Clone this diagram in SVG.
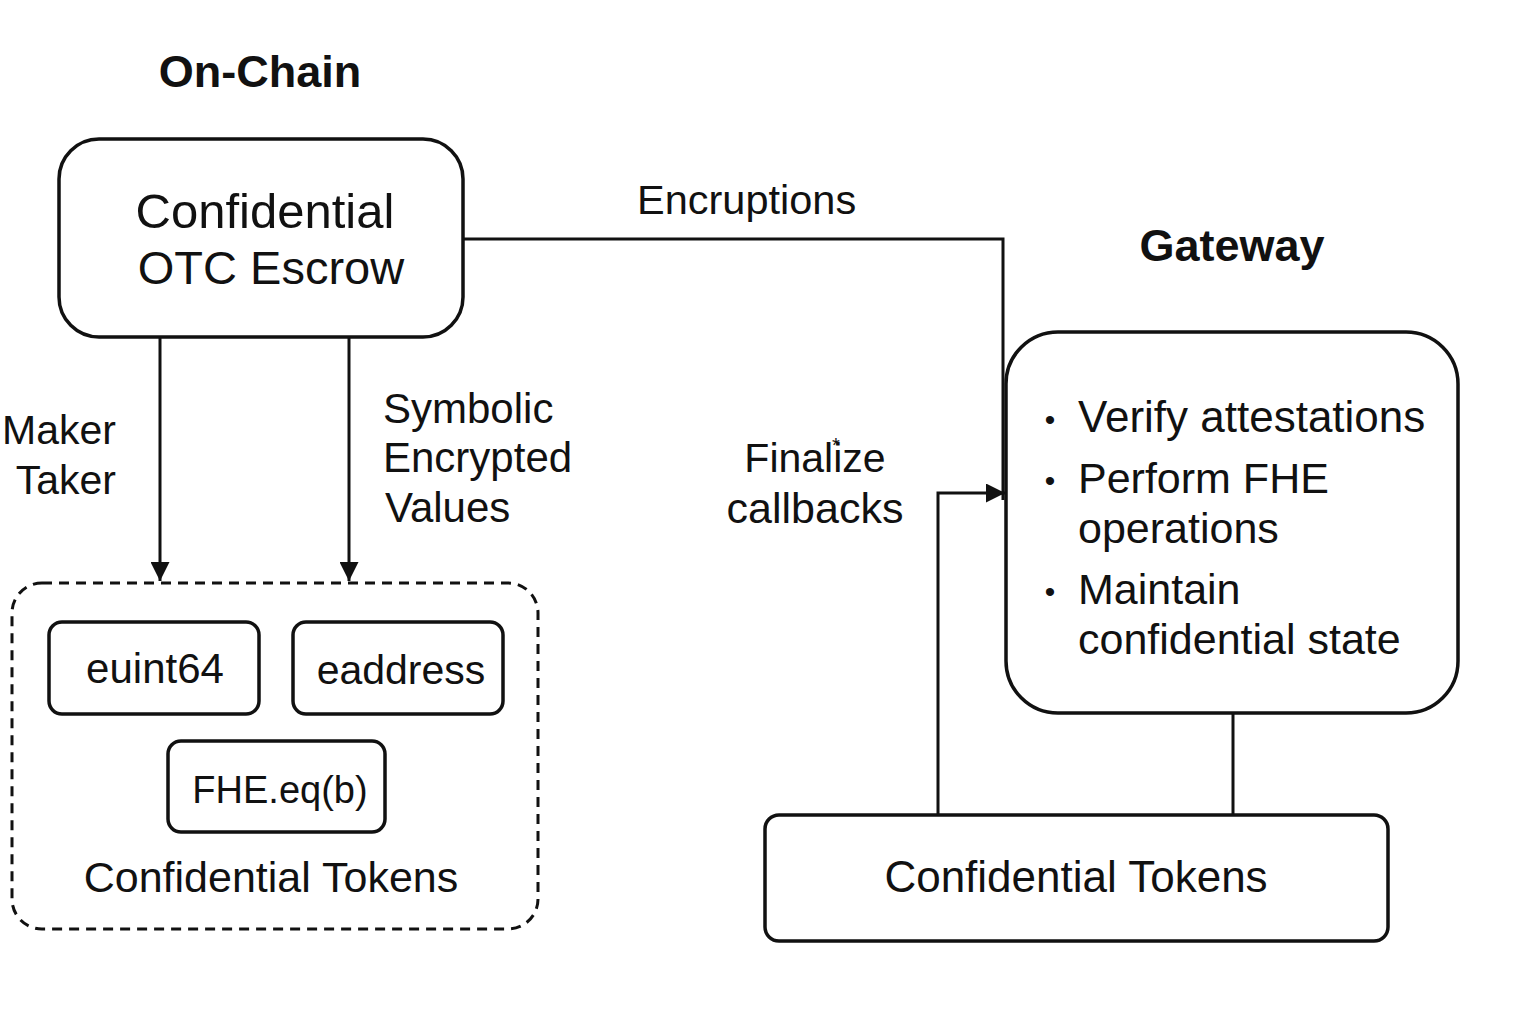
<svg xmlns="http://www.w3.org/2000/svg" width="1536" height="1024" viewBox="0 0 1536 1024">
<style>
text{font-family:"Liberation Sans",Arial,sans-serif;fill:#111}
.b{font-weight:bold}
.box{fill:#fff;stroke:#111;stroke-width:3.5}
.ln{fill:none;stroke:#111;stroke-width:3}
.m{text-anchor:middle}
</style>
<defs>
<marker id="ah" viewBox="0 0 10 10" refX="10" refY="5" markerWidth="19" markerHeight="19" markerUnits="userSpaceOnUse" orient="auto">
<path d="M0,0 L10,5 L0,10 Z" fill="#111"/>
</marker>
</defs>
<rect width="1536" height="1024" fill="#fff"/>
<text class="b m" x="260" y="87" font-size="45">On-Chain</text>
<text class="b m" x="1232" y="261" font-size="45">Gateway</text>
<g id="connectors">
<path class="ln" d="M463,239 H1003 V500"/>
<path class="ln" d="M160,337 V581" marker-end="url(#ah)"/>
<path class="ln" d="M349,337 V581" marker-end="url(#ah)"/>
<path class="ln" d="M938,814 V493 H1005" marker-end="url(#ah)"/>
<path class="ln" d="M1233,713 V815"/>
<text x="637" y="214" font-size="41.5">Encruptions</text>
<text x="116" y="444" font-size="41" text-anchor="end">Maker</text>
<text x="116" y="494" font-size="41" text-anchor="end">Taker</text>
<text x="383" y="423" font-size="42">Symbolic</text>
<text x="383" y="472" font-size="42">Encrypted</text>
<text x="385" y="522" font-size="42">Values</text>
<text class="m" x="815" y="472" font-size="41">Finalize<tspan x="836" y="452" font-size="20">*</tspan></text>
<text class="m" x="815" y="523" font-size="43">callbacks</text>
</g>
<g id="escrow">
<rect class="box" x="59" y="139" width="404" height="198" rx="40"/>
<text class="m" x="265" y="228" font-size="49">Confidential</text>
<text class="m" x="271" y="284" font-size="47">OTC Escrow</text>
</g>
<g id="onchain-tokens">
<rect x="12" y="583" width="526" height="346" rx="30" fill="none" stroke="#111" stroke-width="3" stroke-dasharray="10 7"/>
<text class="m" x="271" y="892" font-size="43">Confidential Tokens</text>
</g>
<g id="euint64">
<rect class="box" x="49" y="622" width="210" height="92" rx="13"/>
<text class="m" x="155" y="683" font-size="42">euint64</text>
</g>
<g id="eaddress">
<rect class="box" x="293" y="622" width="210" height="92" rx="13"/>
<text class="m" x="401" y="684" font-size="41">eaddress</text>
</g>
<g id="fheeq">
<rect class="box" x="168" y="741" width="217" height="91" rx="13"/>
<text class="m" x="280" y="803" font-size="38">FHE.eq(b)</text>
</g>
<g id="gateway">
<rect class="box" x="1006" y="332" width="452" height="381" rx="52"/>
<text class="m" x="1050" y="430" font-size="30">•</text>
<text x="1078" y="432" font-size="44">Verify attestations</text>
<text class="m" x="1050" y="491" font-size="30">•</text>
<text x="1078" y="493" font-size="43">Perform FHE</text>
<text x="1078" y="543" font-size="43">operations</text>
<text class="m" x="1050" y="602" font-size="30">•</text>
<text x="1078" y="604" font-size="43">Maintain</text>
<text x="1078" y="654" font-size="43">confidential state</text>
</g>
<g id="gateway-tokens">
<rect class="box" x="765" y="815" width="623" height="126" rx="14"/>
<text class="m" x="1076" y="892" font-size="44">Confidential Tokens</text>
</g>
</svg>
